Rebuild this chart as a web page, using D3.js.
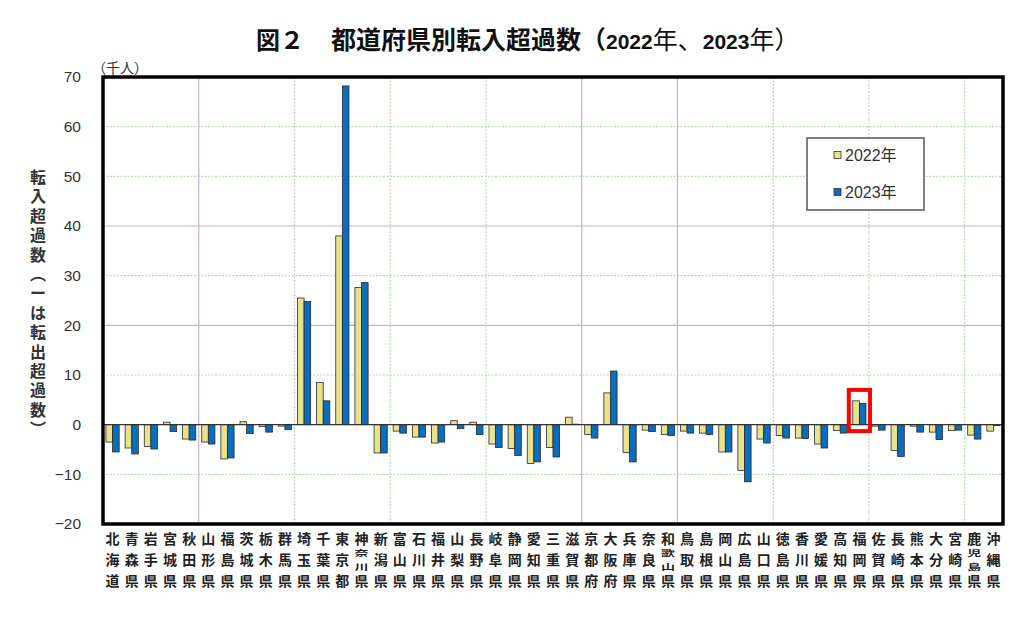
<!DOCTYPE html>
<html><head><meta charset="utf-8">
<script src="https://cdn.jsdelivr.net/npm/d3@7"></script>
<style>
html,body{margin:0;padding:0;background:#fff;}
svg{display:block;}
</style></head>
<body>
<svg id="c" width="1024" height="622"></svg>
<script>
const prefectures = ["北海道","青森県","岩手県","宮城県","秋田県","山形県","福島県","茨城県","栃木県","群馬県",
"埼玉県","千葉県","東京都","神奈川県","新潟県","富山県","石川県","福井県","山梨県","長野県",
"岐阜県","静岡県","愛知県","三重県","滋賀県","京都府","大阪府","兵庫県","奈良県","和歌山県",
"鳥取県","島根県","岡山県","広島県","山口県","徳島県","香川県","愛媛県","高知県","福岡県",
"佐賀県","長崎県","熊本県","大分県","宮崎県","鹿児島県","沖縄県"];
const v2022 = [-3.5,-4.7,-4.4,0.5,-2.9,-3.5,-6.9,0.6,-0.4,-0.3,
25.5,8.5,38.0,27.6,-5.7,-1.3,-2.5,-3.7,0.8,0.5,
-3.9,-4.8,-7.8,-4.6,1.5,-2.0,6.4,-5.6,-1.1,-2.0,
-1.3,-1.7,-5.5,-9.2,-2.9,-2.2,-2.7,-3.9,-1.2,4.8,
-0.3,-5.2,-0.3,-1.5,-1.2,-2.1,-1.3];
const v2023 = [-5.5,-5.9,-4.9,-1.4,-3.1,-3.9,-6.7,-1.8,-1.5,-1.0,
24.8,4.8,68.2,28.6,-5.7,-1.7,-2.5,-3.5,-0.8,-2.0,
-4.6,-6.2,-7.5,-6.5,0.1,-2.7,10.8,-7.5,-1.4,-2.2,
-1.7,-2.0,-5.5,-11.5,-3.7,-2.7,-2.8,-4.7,-1.7,4.3,
-1.1,-6.4,-1.5,-3.0,-1.1,-2.9,-0.2];
const seriesNames = ["2022年","2023年"];
const yTicks = [70,60,50,40,30,20,10,0,-10,-20];
const highlight = "福岡県";
const yTitle = "転入超過数︵ーは転出超過数︶";

const colors = ["#e8e28c","#0a6ebd"];
const svg = d3.select("#c");
const L=103, R=1003, T=77, B=524;
const x = d3.scaleBand().domain(prefectures).range([L,R]).padding(0);
const sub = d3.scaleBand().domain(seriesNames).range([0,x.bandwidth()]).paddingInner(0).paddingOuter(0.45);
const y = d3.scaleLinear().domain([-20,70]).range([B,T]);
const cjk = "'Noto Sans CJK JP','Noto Sans',sans-serif";
const latin = "'Liberation Sans',Arial,'Noto Sans CJK JP',sans-serif";

// title
svg.append("text").attr("x",256).attr("y",49).attr("font-family",cjk).attr("font-weight","bold")
  .attr("font-size",24).attr("fill","#111").text("図２");
const tt = svg.append("text").attr("x",331).attr("y",49).attr("font-family",cjk).attr("font-weight","bold")
  .attr("font-size",25).attr("fill","#111");
tt.append("tspan").text("都道府県別転入超過数（");
tt.append("tspan").attr("font-family",latin).attr("font-size",21).text("2022");
tt.append("tspan").attr("font-weight","normal").text("年、");
tt.append("tspan").attr("font-family",latin).attr("font-size",21).text("2023");
tt.append("tspan").attr("font-weight","normal").text("年）");

// gridlines horizontal
const hStyle = {60:"g",50:"g",40:"p",30:"g",20:"p",10:"g",[-10]:"g"};
yTicks.filter(t=>t!==0 && t!==70 && t!==-20).forEach(t=>{
  const s = hStyle[t];
  svg.append("line").attr("x1",L).attr("x2",R).attr("y1",y(t)).attr("y2",y(t))
    .attr("stroke", s==="p" ? "#c4b4cc" : "#b8dcb0")
    .attr("stroke-width",1.2)
    .attr("stroke-dasharray", s==="p" ? null : "2,1.5");
});
// vertical gridlines every 5 prefectures
const vStyles = ["p","d","g","g","p","p","d","g","g"];
d3.range(5,prefectures.length,5).forEach((i,k)=>{
  const xx = x(prefectures[i]);
  const s = vStyles[k];
  svg.append("line").attr("x1",xx).attr("x2",xx).attr("y1",T).attr("y2",B)
    .attr("stroke", s==="p" ? "#c4b4cc" : (s==="d" ? "#c8c8c8" : "#b8dcb0"))
    .attr("stroke-width",1.2)
    .attr("stroke-dasharray", s==="p" ? null : "2,1.5");
});

// bars
const data = prefectures.map((p,i)=>({p, vals:[v2022[i],v2023[i]]}));
const g = svg.append("g");
data.forEach(d=>{
  d.vals.forEach((v,j)=>{
    g.append("rect")
      .attr("x", x(d.p)+sub(seriesNames[j]))
      .attr("width", sub.bandwidth())
      .attr("y", y(Math.max(0,v)))
      .attr("height", Math.abs(y(v)-y(0)))
      .attr("fill", colors[j])
      .attr("stroke","#2a2a2a").attr("stroke-width",0.8);
  });
});

// zero line
svg.append("line").attr("x1",L).attr("x2",R).attr("y1",y(0)).attr("y2",y(0))
  .attr("stroke","#333").attr("stroke-width",1.2);

// frame
svg.append("rect").attr("x",L).attr("y",T).attr("width",R-L).attr("height",B-T)
  .attr("fill","none").attr("stroke","#000").attr("stroke-width",3.5);

// y axis
const yAxis = d3.axisLeft(y).tickValues(yTicks).tickSize(0).tickPadding(22);
const ya = svg.append("g").attr("transform",`translate(${L},0)`).call(yAxis);
ya.select(".domain").remove();
ya.selectAll("text").attr("font-family",latin).attr("font-size",15.5).attr("fill","#333");

svg.append("text").attr("x",92).attr("y",73).attr("font-family",cjk).attr("font-size",14)
  .attr("fill","#333").text("（千人）");

// y title vertical: single text element in vertical writing mode
svg.append("text").attr("x",38).attr("y",169)
  .attr("font-family",cjk).attr("font-size",16).attr("font-weight","bold").attr("fill","#333")
  .style("writing-mode","vertical-rl").style("text-orientation","upright")
  .style("font-feature-settings","'vert' 0, 'vrt2' 0")
  .attr("textLength",268).attr("lengthAdjust","spacing")
  .text(yTitle);

// x labels
const xl = svg.append("g");
prefectures.forEach(p=>{
  const cx = x(p)+x.bandwidth()/2;
  const chars = Array.from(p);
  const n = chars.length;
  chars.forEach((ch,k)=>{
    let cy, sy=1;
    if(n===3){ cy = 538 + k*21; }
    else { cy = [538,552.5,566,580][k]; sy = (k===0||k===3)?1:0.6; }
    xl.append("text").attr("font-family",cjk).attr("font-size",14).attr("font-weight","bold")
      .attr("fill","#222").attr("text-anchor","middle").attr("dominant-baseline","central")
      .attr("transform",`translate(${cx},${cy}) scale(1,${sy})`).text(ch);
  });
});

// legend
const lg = svg.append("g");
lg.append("rect").attr("x",807).attr("y",138).attr("width",117).attr("height",72)
  .attr("fill","#fff").attr("stroke","#555").attr("stroke-width",1.5);
seriesNames.forEach((s,j)=>{
  const cy = [155,192][j];
  lg.append("rect").attr("x",834).attr("y",cy-3.5).attr("width",7).attr("height",7)
    .attr("fill",colors[j]).attr("stroke","#333").attr("stroke-width",0.8);
  lg.append("text").attr("x",845).attr("y",cy+6).attr("font-family",latin).attr("font-size",16)
    .attr("fill","#333").text(s);
});

// highlight box
svg.append("rect").attr("x",x(highlight)-1).attr("y",y(7)).attr("width",x.bandwidth()+2)
  .attr("height",y(-1.3)-y(7)).attr("fill","none").attr("stroke","#f00").attr("stroke-width",4);
</script>
</body></html>
